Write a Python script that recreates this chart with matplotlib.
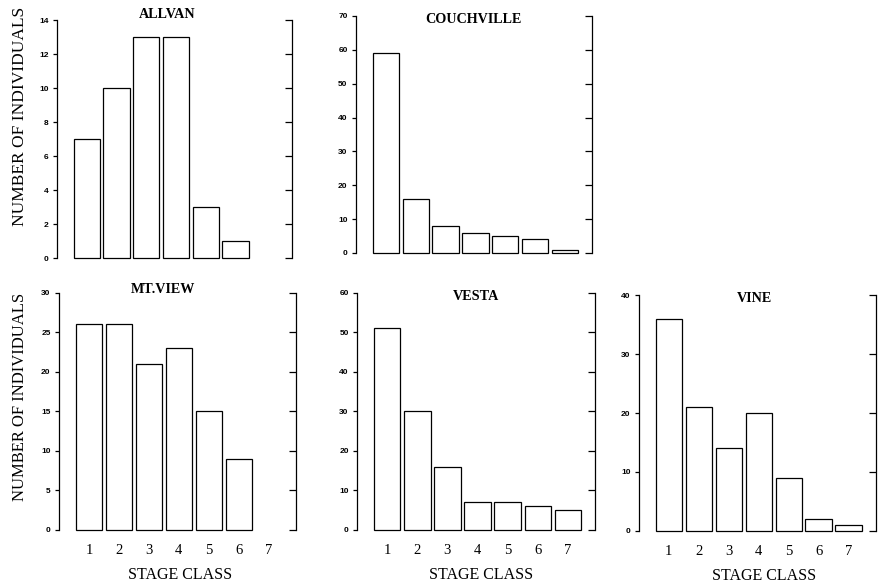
import matplotlib.pyplot as plt

stages = [1, 2, 3, 4, 5, 6, 7]
stage_labels = ['1', '2', '3', '4', '5', '6', '7']

allvan = [7, 10, 13, 13, 3, 1]
couchville = [59, 16, 8, 6, 5, 4, 1]
mt_view = [26, 26, 21, 23, 15, 9]
vesta = [51, 30, 16, 7, 7, 6, 5]
vine = [36, 21, 14, 20, 9, 2, 1]

titles = ['ALLVAN', 'COUCHVILLE', 'MT.VIEW', 'VESTA', 'VINE']
y_max = [14, 70, 30, 60, 40]
y_step = [2, 10, 5, 10, 10]

# axes boxes (figure fraction), title position (axes fraction), bottom row?
boxes = [
    [0.0648, 0.5582, 0.267, 0.4075],
    [0.4045, 0.5668, 0.268, 0.406],
    [0.067, 0.0925, 0.269, 0.406],
    [0.4057, 0.0925, 0.2705, 0.406],
    [0.726, 0.0908, 0.269, 0.404],
]
title_xy = [(0.47, 1.025), (0.5, 0.983), (0.44, 1.013), (0.5, 0.983), (0.49, 0.987)]
bottom_row = [False, False, True, True, True]
xlabel_x = [None, None, 0.51, 0.52, 0.53]

serif = 'Liberation Serif'
sans = 'Liberation Sans'

fig = plt.figure(figsize=(8.8, 5.84), dpi=100)

data = [allvan, couchville, mt_view, vesta, vine]
for i, vals in enumerate(data):
    ax = fig.add_axes(boxes[i])
    ax.bar(stages[:len(vals)], vals, width=0.88, color='white',
           edgecolor='black', linewidth=0.9, clip_on=False)
    ax.set_xlim(0, 7.9)
    ax.set_ylim(0, y_max[i])
    ticks = list(range(0, y_max[i] + 1, y_step[i]))
    ax.set_yticks(ticks)
    ax.set_yticklabels([str(t) for t in ticks], fontsize=6,
                       fontweight='bold', family=sans)
    ax.tick_params(axis='y', direction='out', length=3, width=0.9, pad=3)
    for s in ['top', 'bottom', 'right']:
        ax.spines[s].set_visible(False)
    ax.spines['left'].set_linewidth(0.9)

    if bottom_row[i]:
        ax.set_xticks(stages)
        ax.set_xticklabels(stage_labels, fontsize=10.5, family=serif)
        ax.tick_params(axis='x', length=0, pad=10)
        ax.text(xlabel_x[i], -0.19, 'STAGE CLASS', transform=ax.transAxes,
                ha='center', va='center', fontsize=11.5, family=serif)
    else:
        ax.set_xticks([])

    ax2 = ax.twinx()
    ax2.set_ylim(0, y_max[i])
    ax2.set_yticks(ticks)
    ax2.set_yticklabels([])
    ax2.tick_params(axis='y', direction='in', length=5, width=0.9)
    for s in ['top', 'bottom', 'left']:
        ax2.spines[s].set_visible(False)
    ax2.spines['right'].set_linewidth(0.9)

    ax.text(title_xy[i][0], title_xy[i][1], titles[i], transform=ax.transAxes,
            ha='center', va='center', fontsize=10.2, fontweight='bold', family=serif)

fig.text(0.023, 0.80, 'NUMBER OF INDIVIDUALS', rotation=90, ha='center',
         va='center', fontsize=12.5, family=serif)
fig.text(0.023, 0.32, 'NUMBER OF INDIVIDUALS', rotation=90, ha='center',
         va='center', fontsize=12, family=serif)

fig.savefig('out.png', dpi=100)
